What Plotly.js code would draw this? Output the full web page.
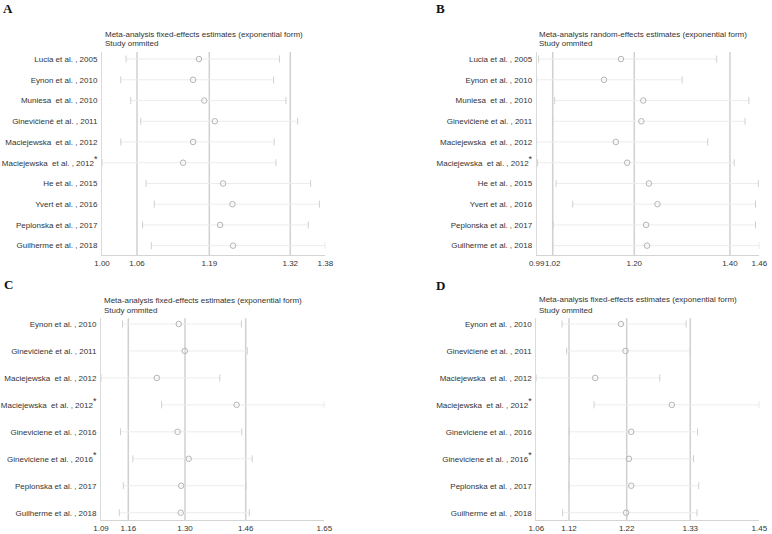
<!DOCTYPE html>
<html><head><meta charset="utf-8">
<script src="https://cdn.plot.ly/plotly-3.0.1.min.js"></script>
<style>body{margin:0;background:#fff}</style></head>
<body><div id="chart" style="width:772px;height:534px"></div>
<script>
// ---------- data ----------
const STAR = "<sup><span style='font-size:9px'>*</span></sup>";
const studiesAB = ["Lucia et al. , 2005","Eynon et al. , 2010","Muniesa&nbsp; et al. , 2010","Ginevičienė et al. , 2011","Maciejewska&nbsp; et al. , 2012","Maciejewska&nbsp; et al. , 2012"+STAR,"He et al. , 2015","Yvert et al. , 2016","Peplonska et al. , 2017","Guilherme et al. , 2018"];
const studiesCD = ["Eynon et al. , 2010","Ginevičienė et al. , 2011","Maciejewska&nbsp; et al. , 2012","Maciejewska&nbsp; et al. , 2012"+STAR,"Gineviciene et al. , 2016","Gineviciene et al. , 2016"+STAR,"Peplonska et al. , 2017","Guilherme et al. , 2018"];

// Panel A: fixed effects
const loA  = [1.041,1.032,1.049,1.066,1.032,1.000,1.075,1.089,1.069,1.084];
const estA = [1.165,1.155,1.174,1.192,1.155,1.138,1.206,1.222,1.201,1.223];
const hiA  = [1.302,1.292,1.313,1.333,1.293,1.296,1.355,1.370,1.351,1.380];
const overallA = [1.0596,1.1826,1.3204];
const tickTextA = ["1.00","1.06","1.19","1.32","1.38"];
const rangeA = [1.00,1.38];

// Panel B: random effects
const loB  = [0.994,0.990,1.028,1.024,0.990,0.992,1.031,1.066,1.025,1.024];
const estB = [1.168,1.132,1.215,1.211,1.157,1.181,1.227,1.245,1.221,1.223];
const hiB  = [1.370,1.297,1.438,1.430,1.351,1.407,1.458,1.452,1.452,1.460];
const overallB = [1.0238,1.196,1.398];
const tickTextB = ["0.99","1.02","1.20","1.40","1.46"];
const rangeB = [0.99,1.46];

// Panel C: fixed effects
const loC  = [1.144,1.159,1.090,1.242,1.139,1.170,1.146,1.136];
const estC = [1.285,1.300,1.230,1.430,1.282,1.310,1.291,1.290];
const hiC  = [1.442,1.457,1.388,1.650,1.443,1.469,1.454,1.462];
const overallC = [1.1585,1.3007,1.4529];
const tickTextC = ["1.09","1.16","1.30","1.46","1.65"];
const rangeC = [1.09,1.65];

// Panel D: fixed effects
const loD  = [1.105,1.113,1.060,1.161,1.118,1.118,1.117,1.106];
const estD = [1.208,1.216,1.163,1.297,1.226,1.222,1.226,1.217];
const hiD  = [1.322,1.329,1.276,1.450,1.342,1.335,1.344,1.341];
const overallD = [1.1172,1.2181,1.3293];
const tickTextD = ["1.06","1.12","1.22","1.33","1.45"];
const rangeD = [1.06,1.45];

// ---------- build ----------
const FONT = "'Liberation Sans', Arial, sans-serif";
const traces = [];
const shapes = [];
const layout = {
  width:772, height:534, margin:{l:0,r:0,t:0,b:0},
  paper_bgcolor:"#fff", plot_bgcolor:"#fff", showlegend:false,
  font:{family:FONT, color:"#333"}, annotations:[], shapes:shapes
};

function panel(n, names, lo, est, hi, overall, tickText, range, xdom, ydom, yr){
  const xa = "x"+(n===1?"":n), ya = "y"+(n===1?"":n);
  const rows = names.map((_,i)=>i+1);
  traces.push({
    x:est, y:rows, xaxis:xa, yaxis:ya, type:"scatter", mode:"markers", hoverinfo:"skip",
    marker:{symbol:"circle-open", size:5.5, color:"#b4b4b4", line:{width:1}},
    error_x:{type:"data", symmetric:false, array:hi.map((h,i)=>h-est[i]), arrayminus:lo.map((l,i)=>est[i]-l), width:0, thickness:1, color:"#ececec"}
  });
  traces.push({
    x:lo.concat(hi), y:rows.concat(rows), xaxis:xa, yaxis:ya, type:"scatter", mode:"markers", hoverinfo:"skip",
    marker:{symbol:"line-ns-open", size:5, color:"#d0d0d0", line:{width:1, color:"#d0d0d0"}}
  });
  overall.forEach(v=>shapes.push({type:"line", layer:"below", xref:xa, yref:ya+" domain", x0:v, x1:v, y0:0, y1:1, line:{color:"#d0d0d0", width:1.5}}));
  const key = n===1?"":n;
  layout["xaxis"+key] = {domain:xdom, anchor:ya, range:range, showgrid:false, zeroline:false, showline:true, linecolor:"#d4d4d4", linewidth:1,
    ticks:"", tickangle:0, tickvals:[range[0]].concat(overall,[range[1]]), ticktext:tickText, tickfont:{size:8, color:"#333"}, fixedrange:true};
  layout["yaxis"+key] = {domain:ydom, anchor:xa, range:yr, showgrid:false, zeroline:false, showline:true, linecolor:"#dadada", linewidth:1,
    ticks:"", tickvals:rows, ticktext:names, tickfont:{size:8, color:"#333"}, ticklabelstandoff:2, fixedrange:true};
}

panel(1, studiesAB, loA, estA, hiA, overallA, tickTextA, rangeA, [102/772, 325.3/772], [1-255/534, 1-52/534], [10.45,0.66]);
panel(2, studiesAB, loB, estB, hiB, overallB, tickTextB, rangeB, [536.7/772, 759.3/772], [1-255/534, 1-52/534], [10.45,0.66]);
panel(3, studiesCD, loC, estC, hiC, overallC, tickTextC, rangeC, [101/772, 324.3/772], [1-520/534, 1-318.3/534], [8.27,0.79]);
panel(4, studiesCD, loD, estD, hiD, overallD, tickTextD, rangeD, [536.3/772, 759.3/772], [1-520/534, 1-318.3/534], [8.27,0.79]);

function ann(text, x, y, opts){
  layout.annotations.push(Object.assign({text:text, xref:"paper", yref:"paper", x:x/772, y:1-y/534, showarrow:false, xanchor:"left", yanchor:"middle", font:{size:8, color:"#333", family:FONT}}, opts||{}));
}
ann("Meta-analysis fixed-effects estimates (exponential form)", 103, 34);
ann("Study ommited", 103, 44);
ann("Meta-analysis random-effects estimates (exponential form)", 537, 34);
ann("Study ommited", 537, 44);
ann("Meta-analysis fixed-effects estimates (exponential form)", 102, 300);
ann("Study ommited", 102, 310.5);
ann("Meta-analysis fixed-effects estimates (exponential form)", 537, 299.5);
ann("Study ommited", 537, 310);
const letterFont = {size:13, color:"#111", family:"'Liberation Serif', 'Times New Roman', serif"};
ann("<b>A</b>", 7.5, 8, {xanchor:"center", font:letterFont});
ann("<b>B</b>", 440.5, 8, {xanchor:"center", font:letterFont});
ann("<b>C</b>", 8, 284.5, {xanchor:"center", font:letterFont});
ann("<b>D</b>", 440, 285, {xanchor:"center", font:letterFont});

Plotly.newPlot("chart", traces, layout, {displayModeBar:false, staticPlot:true});
</script>
</body></html>
